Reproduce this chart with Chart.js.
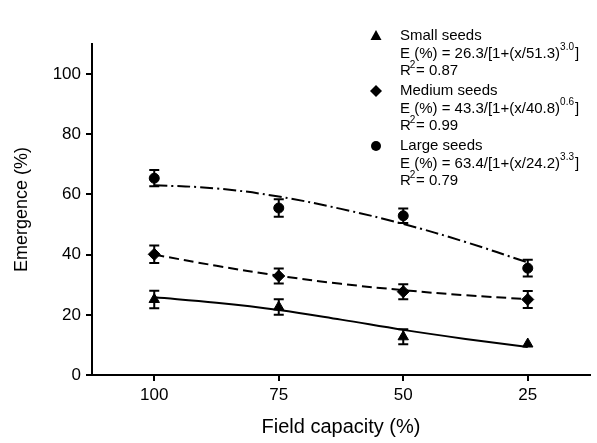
<!DOCTYPE html>
<html><head><meta charset="utf-8">
<script src="https://cdn.jsdelivr.net/npm/chart.js@4/dist/chart.umd.min.js"></script>
<style>html,body{margin:0;padding:0;background:#fff;}#wrap{width:597px;height:443px;}</style>
</head><body><div id="wrap"><canvas id="c" width="597" height="443"></canvas></div>
<script>
// ---- data ----
const fieldCapacity = [100, 75, 50, 25];
const xTickLabels = ['100', '75', '50', '25'];
const yTicks = [0, 20, 40, 60, 80, 100];

const smallSeeds = [25.1, 22.6, 12.7, 10.3];
const smallErr = [2.9, 2.6, 2.5, 0];
const mediumSeeds = [40.1, 32.9, 27.7, 25.1];
const mediumErr = [2.9, 2.5, 2.5, 2.8];
const largeSeeds = [65.4, 55.5, 52.9, 35.5];
const largeErr = [2.7, 2.9, 2.4, 2.8];

// fitted curves, read at intermediate positions
const fitX = [100, 87.5, 75, 62.5, 50, 37.5, 25];
const smallFit = [25.8, 24.0, 21.6, 18.4, 15.0, 12.0, 9.3];
const mediumFit = [40.0, 36.3, 33.0, 30.3, 28.2, 26.5, 25.2];
const largeFit = [63.1, 62.0, 59.3, 55.2, 50.2, 44.2, 37.4];

const seriesNames = ['Small seeds', 'Medium seeds', 'Large seeds'];
const eqMain = ['E (%) = 26.3/[1+(x/51.3)', 'E (%) = 43.3/[1+(x/40.8)', 'E (%) = 63.4/[1+(x/24.2)'];
const eqExp = ['3.0', '0.6', '3.3'];
const r2Values = ['0.87', '0.99', '0.79'];

const FONT = '"Liberation Sans", Arial, sans-serif';
const toXY = (xs, ys) => xs.map((x, i) => ({ x: x, y: ys[i] }));

const errorBars = {
  id: 'errorBars',
  afterDatasetsDraw(chart) {
    const { ctx, scales: { x, y } } = chart;
    ctx.save();
    ctx.strokeStyle = '#000';
    ctx.lineWidth = 2;
    [[smallSeeds, smallErr], [mediumSeeds, mediumErr], [largeSeeds, largeErr]].forEach(([vals, errs]) => {
      vals.forEach((v, i) => {
        if (!errs[i]) return;
        const px = x.getPixelForValue(fieldCapacity[i]);
        const t = y.getPixelForValue(v + errs[i]);
        const b = y.getPixelForValue(v - errs[i]);
        ctx.beginPath();
        ctx.moveTo(px, t); ctx.lineTo(px, b);
        ctx.moveTo(px - 5, t); ctx.lineTo(px + 5, t);
        ctx.moveTo(px - 5, b); ctx.lineTo(px + 5, b);
        ctx.stroke();
      });
    });
    ctx.restore();
  }
};

function drawMarker(ctx, style, cx, cy) {
  ctx.beginPath();
  if (style === 'triangle') {
    ctx.moveTo(cx, cy - 6); ctx.lineTo(cx + 5.5, cy + 4); ctx.lineTo(cx - 5.5, cy + 4); ctx.closePath();
  } else if (style === 'rectRot') {
    ctx.moveTo(cx, cy - 6); ctx.lineTo(cx + 6, cy); ctx.lineTo(cx, cy + 6); ctx.lineTo(cx - 6, cy); ctx.closePath();
  } else {
    ctx.arc(cx, cy, 5, 0, Math.PI * 2);
  }
  ctx.fill();
}

const customLegend = {
  id: 'customLegend',
  afterDraw(chart) {
    const ctx = chart.ctx;
    ctx.save();
    ctx.fillStyle = '#000';
    ctx.textBaseline = 'middle';
    ctx.textAlign = 'left';
    const styles = ['triangle', 'rectRot', 'circle'];
    const tx = 400, mx = 376;
    for (let g = 0; g < 3; g++) {
      const y0 = 36 + g * 55;
      drawMarker(ctx, styles[g], mx, y0);
      ctx.font = '15px ' + FONT;
      ctx.fillText(seriesNames[g], tx, y0);
      const y1 = y0 + 17.5;
      ctx.fillText(eqMain[g], tx, y1);
      let w = ctx.measureText(eqMain[g]).width;
      ctx.font = '10px ' + FONT;
      ctx.fillText(eqExp[g], tx + w, y1 - 6);
      const we = ctx.measureText(eqExp[g]).width;
      ctx.font = '15px ' + FONT;
      ctx.fillText(']', tx + w + we + 1, y1);
      const y2 = y1 + 17.5;
      ctx.fillText('R', tx, y2);
      const wr = ctx.measureText('R').width;
      ctx.font = '10px ' + FONT;
      ctx.fillText('2', tx + wr - 1, y2 - 6);
      ctx.font = '15px ' + FONT;
      ctx.fillText(' = ' + r2Values[g], tx + wr + 1, y2);
    }
    ctx.restore();
  }
};

const lineBase = { showLine: true, pointRadius: 0, borderColor: '#000', borderWidth: 2, tension: 0.4, fill: false };
const pointBase = { showLine: false, backgroundColor: '#000', borderColor: '#000', borderWidth: 1 };

new Chart(document.getElementById('c'), {
  type: 'scatter',
  data: {
    datasets: [
      Object.assign({ label: 'Small seeds fit', data: toXY(fitX, smallFit) }, lineBase),
      Object.assign({ label: 'Medium seeds fit', data: toXY(fitX, mediumFit), borderDash: [10, 5] }, lineBase),
      Object.assign({ label: 'Large seeds fit', data: toXY(fitX, largeFit), borderDash: [13, 4, 2, 4] }, lineBase),
      Object.assign({ label: 'Small seeds', data: toXY(fieldCapacity, smallSeeds), pointStyle: 'triangle', pointRadius: 6 }, pointBase),
      Object.assign({ label: 'Medium seeds', data: toXY(fieldCapacity, mediumSeeds), pointStyle: 'rectRot', pointRadius: 6 }, pointBase),
      Object.assign({ label: 'Large seeds', data: toXY(fieldCapacity, largeSeeds), pointStyle: 'circle', pointRadius: 5 }, pointBase)
    ]
  },
  options: {
    responsive: false,
    animation: false,
    layout: { padding: { top: 44, right: 7, left: 0, bottom: 0 } },
    plugins: { legend: { display: false }, tooltip: { enabled: false } },
    scales: {
      x: {
        type: 'linear', reverse: true, min: 12.5, max: 112.5,
        afterBuildTicks: s => { s.ticks = fieldCapacity.map(v => ({ value: v })); },
        afterFit: s => { s.height = 68; },
        ticks: { callback: (v, i) => xTickLabels[i], font: { size: 17, family: FONT }, color: '#000', padding: 4, maxRotation: 0, autoSkip: false },
        grid: { drawOnChartArea: false, drawTicks: true, tickLength: 6, color: '#000', lineWidth: 2 },
        border: { display: true, color: '#000', width: 2 },
        title: { display: true, text: 'Field capacity (%)', font: { size: 20, family: FONT }, color: '#000', padding: { top: 4, bottom: 4 } }
      },
      y: {
        type: 'linear', min: 0, max: 110,
        afterBuildTicks: s => { s.ticks = yTicks.map(v => ({ value: v })); },
        afterFit: s => { s.width = 92; },
        ticks: { font: { size: 17, family: FONT }, color: '#000', padding: 5 },
        grid: { drawOnChartArea: false, drawTicks: true, tickLength: 6, color: '#000', lineWidth: 2 },
        border: { display: true, color: '#000', width: 2 },
        title: { display: true, text: 'Emergence (%)', font: { size: 18, family: FONT }, color: '#000', padding: { top: 11, bottom: 0 } }
      }
    }
  },
  plugins: [errorBars, customLegend]
});
</script>
</body></html>
